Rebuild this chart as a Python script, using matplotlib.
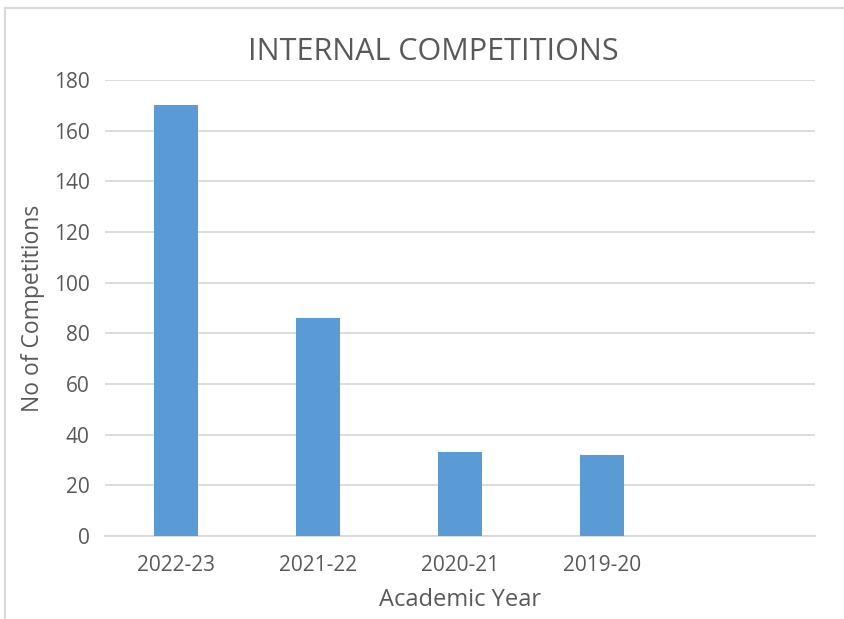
import matplotlib.pyplot as plt
from matplotlib.lines import Line2D

years = ['2022-23', '2021-22', '2020-21', '2019-20']
competitions = [170, 86, 33, 32]
n_slots = 5  # chart leaves room for one empty category on the right

plt.rcParams['font.family'] = ['Open Sans', 'DejaVu Sans']
text_color = '#595959'

fig = plt.figure(figsize=(8.45, 6.19), dpi=100)
ax = fig.add_axes([105/845, 1 - 536/619, 710/845, 456/619])

ax.bar(range(len(years)), competitions, width=0.31, color='#5B9BD5', zorder=3)
ax.set_xlim(-0.5, n_slots - 0.5)
ax.set_ylim(0, 180)
ax.set_yticks(range(0, 181, 20))
ax.set_xticks(range(len(years)))
ax.set_xticklabels(years)

ax.grid(axis='y', color='#D9D9D9', linewidth=1.3, zorder=0)
for s in ['top', 'right', 'left']:
    ax.spines[s].set_visible(False)
ax.spines['bottom'].set_color('#D9D9D9')
ax.spines['bottom'].set_linewidth(1.3)
ax.tick_params(length=0, labelsize=15, colors=text_color)
ax.tick_params(axis='x', pad=14)
ax.tick_params(axis='y', pad=11)

# chart title is centred on the whole chart, not the plot area
fig.text(433/845, 1 - 52/619, 'INTERNAL COMPETITIONS', fontsize=22,
         color=text_color, ha='center', va='center')

ax.set_xlabel('Academic Year', fontsize=17, color=text_color)
ax.set_ylabel('No of Competitions', fontsize=16.5, color=text_color)
ax.xaxis.set_label_coords(0.5, (536 - 600) / 456)
ax.yaxis.set_label_coords((33 - 105) / 710, 0.5)
ax.xaxis.label.set_va('center')
ax.yaxis.label.set_va('center')

# thin frame around the chart area, as in the screenshot
fig.add_artist(Line2D([5/845, 1], [1 - 8/619, 1 - 8/619], color='#D9D9D9', linewidth=1.5))
fig.add_artist(Line2D([5/845, 5/845], [0, 1 - 8/619], color='#D9D9D9', linewidth=1.5))

fig.savefig('out.png', dpi=100)
